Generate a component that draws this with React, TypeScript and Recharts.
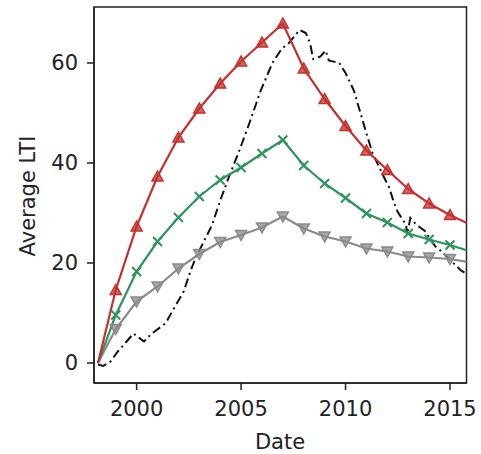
import { LineChart, Line, XAxis, YAxis, ReferenceArea, Label } from 'recharts';

// yearly series (first point is the start of the record, no marker)
const years = [1998.15, 1999, 2000, 2001, 2002, 2003, 2004, 2005, 2006, 2007, 2008, 2009, 2010, 2011, 2012, 2013, 2014, 2015, 2016];
const redValues = [0, 14.6, 27.3, 37.3, 45.1, 50.9, 55.9, 60.3, 64.1, 67.9, 58.9, 52.8, 47.4, 42.5, 38.6, 34.8, 31.9, 29.6, 27.6];
const greenValues = [0, 9.6, 18.3, 24.3, 29.1, 33.3, 36.6, 39.1, 41.9, 44.6, 39.5, 35.9, 33.0, 29.9, 28.1, 25.9, 24.7, 23.6, 22.3];
const grayValues = [0, 6.8, 12.3, 15.3, 18.9, 21.8, 24.2, 25.6, 27.1, 29.3, 26.9, 25.3, 24.3, 22.9, 22.3, 21.3, 21.1, 20.8, 20.1];

// dash-dot series, sampled more finely
const blackDates = [
  1998.15, 1998.4, 1998.75, 1999.1, 1999.5, 1999.85, 2000.35, 2000.7, 2001.4, 2001.7, 2002.25, 2002.6,
  2002.85, 2003.1, 2003.6, 2004.0, 2004.4, 2004.9, 2005.4, 2005.95, 2006.5, 2006.95, 2007.25, 2007.8,
  2008.1, 2008.3, 2008.45, 2008.8, 2009.05, 2009.2, 2009.7, 2010.0, 2010.4, 2011.0, 2011.3, 2011.8,
  2012.1, 2012.3, 2012.5, 2012.9, 2012.95, 2013.1, 2013.4, 2013.8, 2014.3, 2014.6, 2015.5, 2016.0,
];
const blackValues = [
  -0.3, -0.6, 0.3, 2.3, 4.2, 5.9, 4.3, 5.8, 8.0, 10.3, 14.3, 18.6,
  21.3, 23.3, 27.5, 32.5, 37.0, 42.3, 48.0, 54.6, 60.0, 62.9, 63.8, 66.6,
  66.0, 64.0, 60.8, 61.3, 62.5, 60.5, 60.0, 58.0, 54.5, 45.9, 41.9, 37.5,
  35.0, 32.3, 30.2, 27.6, 25.6, 29.0, 27.6, 26.4, 23.3, 22.3, 18.6, 17.2,
];

const xTicks = [2000, 2005, 2010, 2015];
const yTicks = [0, 20, 40, 60];

const X_MIN = 1997.96;
const X_MAX = 2015.79;
const Y_MIN = -4;
const Y_MAX = 71.2;

const RED = '#c4302e';
const GREEN = '#2f935d';
const GRAY = '#8a8a8a';
const FONT = 'DejaVu Sans, sans-serif';

const toPoints = (xs: number[], ys: number[]) => xs.map((x, i) => ({ x, y: ys[i] }));

const redData = toPoints(years, redValues);
const greenData = toPoints(years, greenValues);
const grayData = toPoints(years, grayValues);
const blackData = toPoints(blackDates, blackValues);

const hidden = (props: any) => props.index === 0 || props.payload.x > X_MAX;

const TriUp = (props: any) => {
  const { cx, cy, index } = props;
  if (hidden(props)) return <g key={`u${index}`} />;
  const d = `M${cx},${cy - 5.5} L${cx - 5.5},${cy + 4.5} L${cx + 5.5},${cy + 4.5} Z`;
  return <path key={`u${index}`} d={d} fill={RED} fillOpacity={0.75} stroke={RED} strokeWidth={1.5} />;
};

const TriDown = (props: any) => {
  const { cx, cy, index } = props;
  if (hidden(props)) return <g key={`d${index}`} />;
  const d = `M${cx},${cy + 5.5} L${cx - 5.5},${cy - 4.5} L${cx + 5.5},${cy - 4.5} Z`;
  return <path key={`d${index}`} d={d} fill={GRAY} fillOpacity={0.75} stroke={GRAY} strokeWidth={1.5} />;
};

const Cross = (props: any) => {
  const { cx, cy, index } = props;
  if (hidden(props)) return <g key={`x${index}`} />;
  const r = 4.5;
  const d = `M${cx - r},${cy - r} L${cx + r},${cy + r} M${cx - r},${cy + r} L${cx + r},${cy - r}`;
  return <path key={`x${index}`} d={d} stroke={GREEN} strokeWidth={2} fill="none" />;
};

export default function App() {
  const tick = { fontSize: 21, fill: '#222', fontFamily: FONT };
  return (
    <div style={{ position: 'absolute', left: 0, top: 0, width: 481, height: 454, background: '#fff' }}>
      <LineChart width={481} height={454} margin={{ top: 7, right: 14.5, bottom: 0, left: 0 }}>
        <XAxis
          type="number"
          dataKey="x"
          domain={[X_MIN, X_MAX]}
          ticks={xTicks}
          allowDataOverflow
          height={71}
          tickSize={7}
          tickMargin={11}
          axisLine={{ stroke: '#222', strokeWidth: 1.5 }}
          tickLine={{ stroke: '#222', strokeWidth: 1.5 }}
          tick={tick}
        >
          <Label
            content={() => (
              <text x={280} y={449} textAnchor="middle" fontSize={21} fontFamily={FONT} fill="#222">
                Date
              </text>
            )}
          />
        </XAxis>
        <YAxis
          type="number"
          domain={[Y_MIN, Y_MAX]}
          ticks={yTicks}
          allowDataOverflow
          width={94}
          tickSize={7}
          tickMargin={9}
          axisLine={{ stroke: '#222', strokeWidth: 1.5 }}
          tickLine={{ stroke: '#222', strokeWidth: 1.5 }}
          tick={tick}
        >
          <Label
            content={() => (
              <text
                x={35}
                y={196}
                transform="rotate(-90 35 196)"
                textAnchor="middle"
                fontSize={21}
                fontFamily={FONT}
                fill="#222"
              >
                Average LTI
              </text>
            )}
          />
        </YAxis>
        <Line
          data={blackData}
          dataKey="y"
          type="linear"
          stroke="#111"
          strokeWidth={2}
          strokeDasharray="9 4 2 4"
          dot={false}
          isAnimationActive={false}
        />
        <Line
          data={grayData}
          dataKey="y"
          type="linear"
          stroke={GRAY}
          strokeWidth={2.2}
          dot={TriDown}
          isAnimationActive={false}
        />
        <Line
          data={greenData}
          dataKey="y"
          type="linear"
          stroke={GREEN}
          strokeWidth={2.2}
          dot={Cross}
          isAnimationActive={false}
        />
        <Line
          data={redData}
          dataKey="y"
          type="linear"
          stroke={RED}
          strokeWidth={2.2}
          dot={TriUp}
          isAnimationActive={false}
        />
        <ReferenceArea
          x1={X_MIN}
          x2={X_MAX}
          y1={Y_MIN}
          y2={Y_MAX}
          fill="none"
          stroke="#222"
          strokeWidth={1.5}
          ifOverflow="visible"
        />
      </LineChart>
    </div>
  );
}
